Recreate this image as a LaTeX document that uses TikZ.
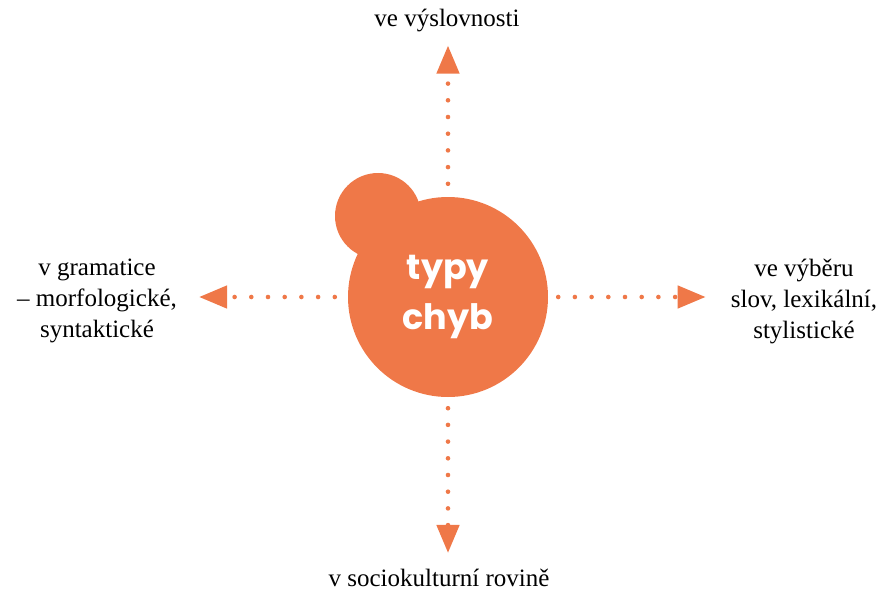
\documentclass[tikz,border=0pt]{standalone}
\usepackage{fontspec}
\setmainfont{Liberation Serif}
\newfontfamily\poppins{Poppins}
\usetikzlibrary{arrows.meta}
\definecolor{errorange}{RGB}{239,120,72}
\tikzset{
  blob/.style={circle, fill=errorange, inner sep=0pt},
  dotarrow/.style={errorange, line width=4.6pt, line cap=round,
    dash pattern=on 0pt off 16.7pt, -{Triangle[length=28pt,width=22pt]}},
  lbl/.style={inner sep=0pt, align=center, font=\fontsize{25}{31}\selectfont}
}
\begin{document}
\begin{tikzpicture}[x=1pt,y=-1pt]
    \useasboundingbox (0,0) rectangle (881,591);

    % central blob
    \node[blob, minimum size=86pt] (bump) at (378,216) {};
    \node[blob, minimum size=200pt, text=white, align=center,
      font=\poppins\bfseries\fontsize{35}{50}\selectfont] (types) at (448,297) {typy\\chyb};

    % labels
    \node[lbl] (phon) at (447,21) {ve výslovnosti};
    \node[lbl] (gram) at (97,301) {v gramatice\\– morfologické,\\syntaktické};
    \node[lbl] (lex) at (804,301) {ve výběru\\slov, lexikální,\\stylistické};
    \node[lbl] (socio) at (439,578) {v sociokulturní rovině};

    % arrows
    \draw[dotarrow, shorten <=13pt, shorten >=13pt] (types.north) -- (types.north |- phon.south);
    \draw[dotarrow, shorten <=11pt, shorten >=16pt] (types.south) -- (types.south |- socio.north);
    \draw[dotarrow, shorten <=13pt, shorten >=22pt] (types.west) -- (types.west -| gram.east);
    \draw[dotarrow, shorten <=10pt, shorten >=25pt] (types.east) -- (types.east -| lex.west);
\end{tikzpicture}
\end{document}
